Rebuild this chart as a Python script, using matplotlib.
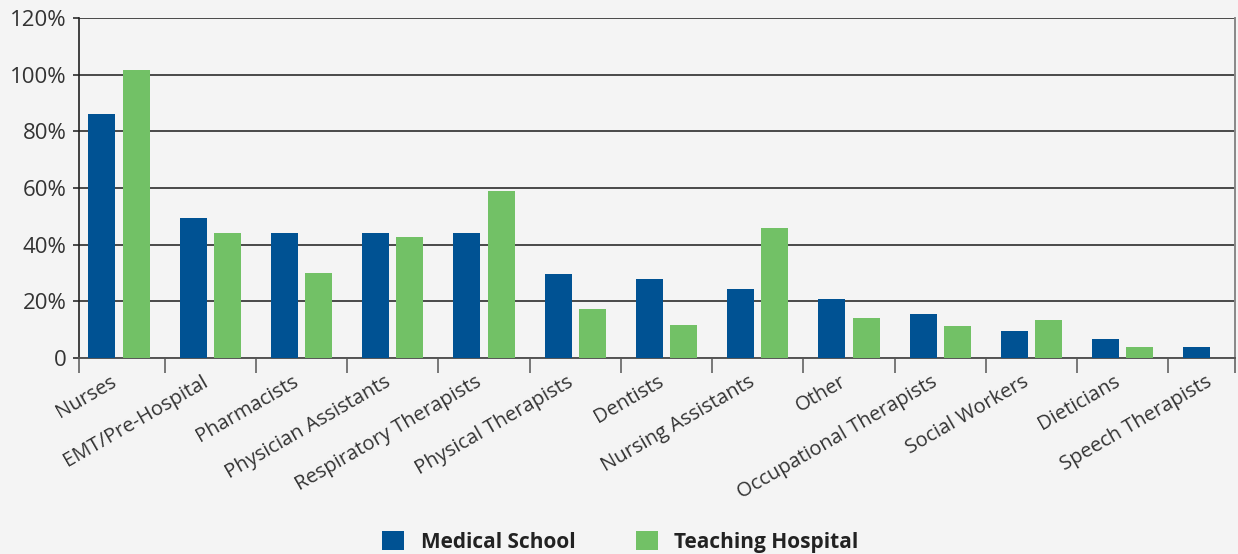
import matplotlib

matplotlib.use("Agg")

import matplotlib.pyplot as plt
import matplotlib.transforms as mtransforms
from matplotlib.patches import Patch
import numpy as np

plt.rcParams["font.family"] = ["Open Sans", "DejaVu Sans"]

# --- data (percent of respondents) ---
categories = [
    "Nurses", "EMT/Pre-Hospital", "Pharmacists", "Physician Assistants",
    "Respiratory Therapists", "Physical Therapists", "Dentists",
    "Nursing Assistants", "Other", "Occupational Therapists",
    "Social Workers", "Dieticians", "Speech Therapists",
]
medical_school = [86, 49.5, 44, 44, 44, 29.5, 28, 24.5, 20.7, 15.5, 9.4, 6.6, 3.9]
teaching_hospital = [101.7, 44, 30, 42.7, 59, 17.3, 11.6, 46, 14.1, 11.2, 13.4, 3.9, 0]
y_ticks = [0, 20, 40, 60, 80, 100, 120]
y_labels = ["0", "20%", "40%", "60%", "80%", "100%", "120%"]

BLUE = "#005293"
GREEN = "#72c166"
BG = "#f4f4f4"
GRID = "#3c3c3c"
TEXT = "#333333"

fig = plt.figure(figsize=(12.38, 5.54), dpi=100, facecolor=BG)
ax = fig.add_axes([0.0638, 0.3538, 0.9338, 0.6137], facecolor=BG)

x = np.arange(len(categories))
width = 0.296
offset = 0.188
ax.bar(x - offset, medical_school, width, color=BLUE, zorder=3, label="Medical School")
ax.bar(x + offset, teaching_hospital, width, color=GREEN, zorder=3, label="Teaching Hospital")

left, right = -0.438, 12.23
ax.set_xlim(left, right)
ax.set_ylim(0, 120)

# y axis: gridlines + labels
ax.set_yticks(y_ticks)
ax.set_yticklabels(y_labels)
ax.yaxis.grid(True, color=GRID, linewidth=1.3, zorder=1)
ax.tick_params(axis="y", length=4, width=1.3, color=GRID, labelsize=16,
               labelcolor=TEXT, pad=5)

# x axis: labels at category centres, separator ticks between categories
ax.set_xticks(x)
ax.set_xticklabels(categories, rotation=30, ha="right", rotation_mode="anchor")
ax.tick_params(axis="x", which="major", length=0, labelsize=14.5, labelcolor=TEXT, pad=10)
shift = mtransforms.ScaledTranslation(-9 / 100, 0, fig.dpi_scale_trans)
for lbl in ax.get_xticklabels():
    lbl.set_transform(lbl.get_transform() + shift)
ax.set_xticks([left] + list(np.arange(len(categories) - 1) + 0.5) + [right], minor=True)
ax.tick_params(axis="x", which="minor", length=11, width=1.4, color="#777777")

ax.spines["top"].set_visible(False)
ax.spines["left"].set_color("#222222")
ax.spines["left"].set_linewidth(1.2)
ax.spines["right"].set_color("#888888")
ax.spines["right"].set_linewidth(1.4)
ax.spines["bottom"].set_color("#555555")
ax.spines["bottom"].set_linewidth(1.4)

handles = [Patch(facecolor=BLUE), Patch(facecolor=GREEN)]
fig.legend(
    handles, ["Medical School", "Teaching Hospital"],
    loc="center", bbox_to_anchor=(0.501, 0.022), ncol=2, frameon=False,
    prop={"weight": "bold", "size": 15}, labelcolor="#222222",
    handlelength=1.05, handleheight=1.05, handletextpad=0.8, columnspacing=2.9,
)

fig.savefig("out.png", dpi=100, facecolor=BG)
